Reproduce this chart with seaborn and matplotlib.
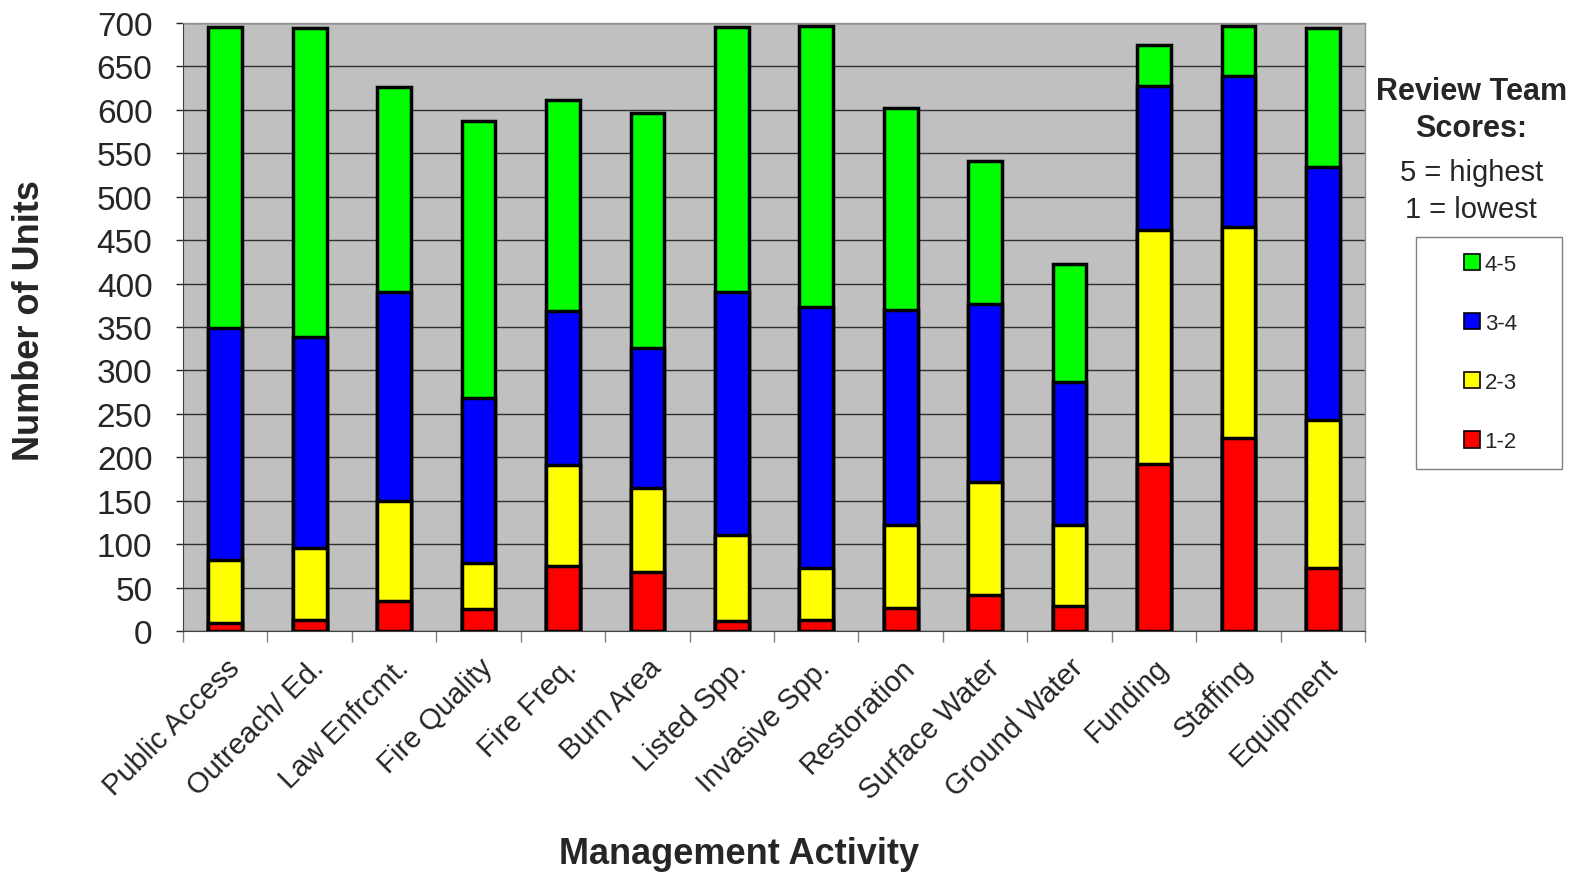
"""
Stacked bar chart of review team scores by management activity.
"""

import matplotlib
matplotlib.use("Agg")
import matplotlib.pyplot as plt
from matplotlib.patches import Patch, Rectangle
import seaborn as sns
import numpy as np

activities = ["Public Access", "Outreach/ Ed.", "Law Enfrcmt.", "Fire Quality",
              "Fire Freq.", "Burn Area", "Listed Spp.", "Invasive Spp.",
              "Restoration", "Surface Water", "Ground Water", "Funding",
              "Staffing", "Equipment"]

# units per score band (bottom to top of each stack)
score_1_2 = [9, 13, 35, 25, 75, 68, 11, 13, 27, 41, 29, 192, 222, 72]
score_2_3 = [73, 82, 115, 53, 116, 97, 99, 60, 95, 131, 93, 270, 243, 171]
score_3_4 = [267, 243, 240, 190, 177, 161, 280, 300, 248, 205, 165, 165, 174, 291]
score_4_5 = [346, 356, 236, 319, 243, 270, 305, 323, 232, 164, 136, 48, 57, 160]

band_labels = ["1-2", "2-3", "3-4", "4-5"]
band_colors = ["#FF0000", "#FFFF00", "#0000FF", "#00FF00"]

sns.set_style("white")
plt.rcParams['font.family'] = ['Liberation Sans', 'DejaVu Sans']

fig = plt.figure(figsize=(15.72, 8.78), dpi=100)
ax = fig.add_axes([0.1164, 0.2802, 0.752, 0.6925])
ax.set_facecolor("#C0C0C0")

bands = np.array([score_1_2, score_2_3, score_3_4, score_4_5])
cumulative = np.cumsum(bands, axis=0)

# draw tallest stack first so lower bands sit on top of it
for level in range(3, -1, -1):
    sns.barplot(x=activities, y=cumulative[level], order=activities,
                color=band_colors[level], saturation=1, width=0.4,
                edgecolor="black", linewidth=2.5, ax=ax, zorder=3)

ax.set_ylim(0, 700)
ax.set_xlim(-0.5, len(activities) - 0.5)
ax.set_yticks(np.arange(0, 701, 50))
ax.yaxis.grid(True, color="#303030", linewidth=1.0, zorder=0)
ax.set_axisbelow(True)

ax.tick_params(axis="y", labelsize=24, length=5, width=1, direction="out",
               left=True, pad=17)
ax.set_xticks(range(len(activities)))
ax.set_xticklabels(activities, rotation=45, ha="right",
                   rotation_mode="anchor", fontsize=21)
ax.tick_params(axis="x", length=0, pad=16)
# tick marks between categories
ax.set_xticks(np.arange(-0.5, len(activities), 1), minor=True)
ax.tick_params(axis="x", which="minor", length=8, width=1, color="#808080",
               direction="out", bottom=True)

for side in ["top", "right"]:
    ax.spines[side].set_color("#909090")
    ax.spines[side].set_linewidth(1)
ax.spines["left"].set_color("#404040")
ax.spines["bottom"].set_color("#404040")

ax.set_xlabel("")
ax.set_ylabel("")
fig.text(0.019, 0.635, "Number of Units", rotation=90, fontsize=26,
         fontweight="bold", ha="center", va="center")
fig.text(0.47, 0.027, "Management Activity", fontsize=26,
         fontweight="bold", ha="center", va="center")

fig.text(0.936, 0.874, "Review Team\nScores:", fontsize=22, fontweight="bold",
         ha="center", va="center", linespacing=1.3)
fig.text(0.936, 0.782, "5 = highest\n1 = lowest", fontsize=21,
         ha="center", va="center", linespacing=1.38)

# legend box
fig.patches.append(Rectangle((0.9008, 0.4647), 0.0929, 0.2642,
                             transform=fig.transFigure, facecolor="white",
                             edgecolor="#808080", linewidth=1))

handles = [Patch(facecolor=band_colors[i], edgecolor="black", linewidth=1.2,
                 label=band_labels[i]) for i in range(3, -1, -1)]
fig.legend(handles=handles, loc="center",
           bbox_to_anchor=(0.948, 0.597), fontsize=16,
           frameon=False, handlelength=0.75, handleheight=0.75,
           handletextpad=0.2, labelspacing=1.72, borderpad=0,
           borderaxespad=0)

fig.savefig("out.png", dpi=100, facecolor="white")
